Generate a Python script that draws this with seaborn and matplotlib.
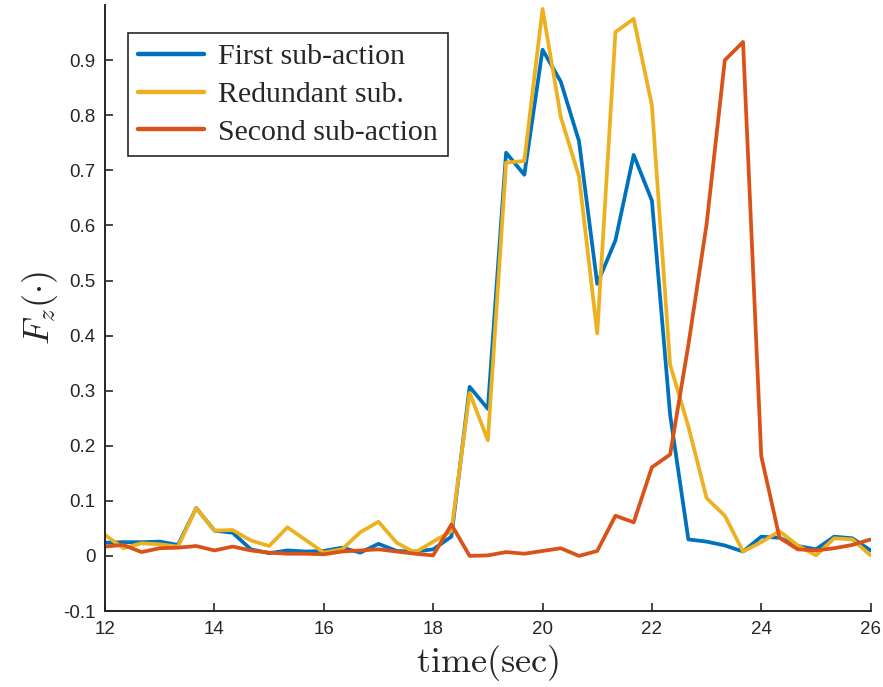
import numpy as np
import pandas as pd
import seaborn as sns
import matplotlib
matplotlib.use("Agg")
import matplotlib.pyplot as plt

# samples every 1/3 s from 12 to 26
time = np.linspace(12, 26, 43)

first_sub = [0.024, 0.025, 0.025, 0.026, 0.020, 0.087, 0.046, 0.042, 0.012, 0.005,
             0.010, 0.008, 0.009, 0.015, 0.006, 0.022, 0.009, 0.008, 0.012, 0.035,
             0.307, 0.267, 0.732, 0.692, 0.919, 0.861, 0.753, 0.494, 0.573, 0.728,
             0.645, 0.256, 0.030, 0.026, 0.019, 0.008, 0.035, 0.033, 0.018, 0.012,
             0.035, 0.032, 0.010]
redundant = [0.038, 0.014, 0.023, 0.021, 0.017, 0.087, 0.046, 0.047, 0.028, 0.018,
             0.052, 0.029, 0.006, 0.012, 0.043, 0.062, 0.024, 0.006, 0.026, 0.045,
             0.296, 0.210, 0.714, 0.717, 0.993, 0.797, 0.689, 0.404, 0.951, 0.975,
             0.818, 0.347, 0.235, 0.105, 0.073, 0.008, 0.025, 0.045, 0.019, 0.001,
             0.032, 0.030, 0.001]
second_sub = [0.017, 0.020, 0.007, 0.014, 0.015, 0.018, 0.010, 0.017, 0.010, 0.006,
              0.004, 0.004, 0.003, 0.008, 0.010, 0.012, 0.008, 0.004, 0.001, 0.057,
              0.000, 0.001, 0.007, 0.004, 0.009, 0.014, 0.000, 0.009, 0.073, 0.061,
              0.161, 0.184, 0.383, 0.602, 0.900, 0.933, 0.181, 0.033, 0.012, 0.010,
              0.014, 0.020, 0.030]

series_names = ["First sub-action", "Redundant sub.", "Second sub-action"]
palette = ["#0072BD", "#EDB120", "#D95319"]

x_ticks = [12, 14, 16, 18, 20, 22, 24, 26]
y_ticks = [-0.1, 0, 0.1, 0.2, 0.3, 0.4, 0.5, 0.6, 0.7, 0.8, 0.9]
y_tick_labels = ["-0.1", "0", "0.1", "0.2", "0.3", "0.4", "0.5", "0.6", "0.7", "0.8", "0.9"]

df = pd.DataFrame({
    "time": np.tile(time, 3),
    "Fz": first_sub + redundant + second_sub,
    "series": np.repeat(series_names, len(time)),
})

sns.set_style("ticks")
plt.rcParams["font.family"] = ["Liberation Sans", "DejaVu Sans"]
plt.rcParams["mathtext.fontset"] = "cm"

fig = plt.figure(figsize=(8.83, 6.87), dpi=100)
ax = fig.add_axes([0.119, 0.1106, 0.867, 0.882])

sns.lineplot(data=df, x="time", y="Fz", hue="series", hue_order=series_names,
             palette=palette, linewidth=2.7, ax=ax)

ax.set_xlim(12, 26)
ax.set_ylim(-0.1, 1.0)
ax.set_xticks(x_ticks)
ax.set_yticks(y_ticks)
ax.set_yticklabels(y_tick_labels)
ax.tick_params(direction="in", length=6, width=1.2, labelsize=13.5, colors="#262626", pad=7)
for s in ["top", "right"]:
    ax.spines[s].set_visible(False)
for s in ["left", "bottom"]:
    ax.spines[s].set_linewidth(1.4)
    ax.spines[s].set_color("#262626")

ax.set_xlabel(r"$\mathrm{time(sec)}$", fontsize=26, labelpad=4)
ax.set_ylabel(r"$F_z(\cdot)$", fontsize=26, labelpad=2)

leg = ax.legend(loc="upper left", bbox_to_anchor=(0.03, 0.954), borderaxespad=0,
                fancybox=False, framealpha=1, edgecolor="#262626",
                prop={"family": "Liberation Serif", "size": 21.5},
                handlelength=2.2, handletextpad=0.45, labelspacing=0.36,
                borderpad=0.35)
leg.get_frame().set_linewidth(1.2)
for line in leg.get_lines():
    line.set_linewidth(3.2)

fig.savefig("out.png", dpi=100)
